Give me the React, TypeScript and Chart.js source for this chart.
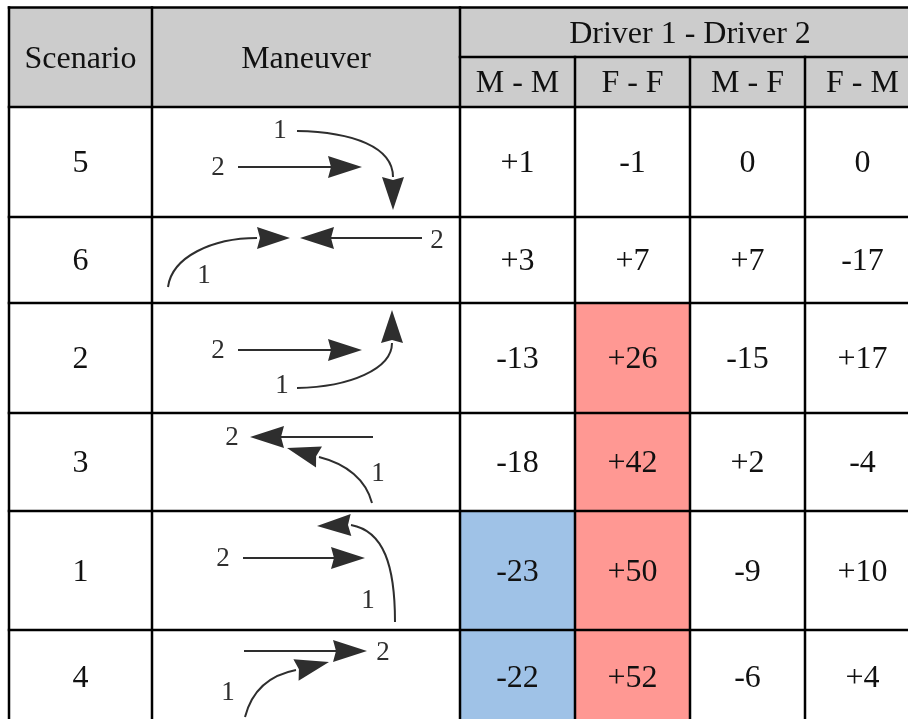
import React, { useEffect, useRef } from 'react';
import { Chart, registerables } from 'chart.js';

Chart.register(...registerables);

// ---------- data ----------
const SCENARIOS = ['5', '6', '2', '3', '1', '4'];
const PAIRINGS = ['M - M', 'F - F', 'M - F', 'F - M'];
const MM = [1, 3, -13, -18, -23, -22];
const FF = [-1, 7, 26, 42, 50, 52];
const MF = [0, 7, -15, 2, -9, -6];
const FM = [0, -17, 17, -4, 10, 4];
const SIG_MM = [false, false, false, false, true, true];
const SIG_FF = [false, false, true, true, true, true];
const SIG_MF = [false, false, false, false, false, false];
const SIG_FM = [false, false, false, false, false, false];
const HEADER_SCENARIO = 'Scenario';
const HEADER_MANEUVER = 'Maneuver';
const HEADER_GROUP = 'Driver 1 - Driver 2';

const VALUES = [MM, FF, MF, FM];
const SIGS = [SIG_MM, SIG_FF, SIG_MF, SIG_FM];

// ---------- layout ----------
const W = 908;
const H = 719;
const COL_EDGES = [9, 152, 460, 575, 690, 805, 920];
const HEAD_EDGES = [7.5, 57, 107];
const ROW_EDGES = [107, 217, 303, 413, 511, 630, 724];
const GRID_W = 2.5;
const FONT = '"Liberation Serif", "Times New Roman", serif';
const COLOR_POS = '#ff9893';
const COLOR_NEG = '#9fc2e7';
const COLOR_HEAD = '#cccccc';
const ARROW_COLOR = '#2e2e2e';

type P = [number, number];
type Line = { from: P; tip: P };
type Curve = { from: P; c1: P; c2: P; to: P; tip: P };
type Icon = { labels: { t: string; at: P }[]; lines: Line[]; curves: Curve[] };

// maneuver sketches, relative to the maneuver cell (left, top)
const ICONS: Icon[] = [
  {
    labels: [{ t: '1', at: [128, 23] }, { t: '2', at: [66, 60] }],
    lines: [{ from: [86, 60], tip: [210, 60] }],
    curves: [{ from: [145, 24], c1: [201, 25], c2: [241, 40], to: [241, 70], tip: [241, 103] }],
  },
  {
    labels: [{ t: '1', at: [52, 58] }, { t: '2', at: [285, 23] }],
    lines: [{ from: [270, 21], tip: [148, 21] }],
    curves: [{ from: [16, 70], c1: [20, 40], c2: [60, 21], to: [105, 21], tip: [138, 21] }],
  },
  {
    labels: [{ t: '2', at: [66, 47] }, { t: '1', at: [130, 82] }],
    lines: [{ from: [86, 47], tip: [210, 47] }],
    curves: [{ from: [145, 85], c1: [198, 84], c2: [240, 66], to: [240, 40], tip: [240, 7] }],
  },
  {
    labels: [{ t: '2', at: [80, 24] }, { t: '1', at: [226, 60] }],
    lines: [{ from: [221, 24], tip: [98, 24] }],
    curves: [{ from: [220, 90], c1: [214, 67], c2: [195, 51], to: [167, 44], tip: [135, 35] }],
  },
  {
    labels: [{ t: '2', at: [71, 47] }, { t: '1', at: [216, 89] }],
    lines: [{ from: [91, 47], tip: [213, 47] }],
    curves: [{ from: [243, 111], c1: [243, 55], c2: [232, 20], to: [199, 14], tip: [165, 15] }],
  },
  {
    labels: [{ t: '2', at: [231, 22] }, { t: '1', at: [76, 62] }],
    lines: [{ from: [92, 21], tip: [215, 21] }],
    curves: [{ from: [93, 87], c1: [100, 60], c2: [118, 45], to: [144, 40], tip: [177, 32] }],
  },
];

const fmt = (v: number) => (v > 0 ? `+${v}` : `${v}`);

function drawHead(ctx: CanvasRenderingContext2D, base: P, tip: P) {
  const dx = tip[0] - base[0];
  const dy = tip[1] - base[1];
  const len = Math.hypot(dx, dy) || 1;
  const ux = dx / len;
  const uy = dy / len;
  const px = -uy;
  const py = ux;
  const hw = 11;
  ctx.beginPath();
  ctx.moveTo(tip[0], tip[1]);
  ctx.lineTo(base[0] + px * hw, base[1] + py * hw);
  ctx.lineTo(base[0] + ux * 3, base[1] + uy * 3);
  ctx.lineTo(base[0] - px * hw, base[1] - py * hw);
  ctx.closePath();
  ctx.fill();
}

const tablePlugin = {
  id: 'tablePlugin',
  beforeDatasetsDraw(chart: any) {
    const { ctx, scales } = chart;
    const X = (v: number) => scales.x.getPixelForValue(v);
    const Y = (v: number) => scales.y.getPixelForValue(v);
    ctx.save();
    ctx.fillStyle = '#ffffff';
    ctx.fillRect(0, 0, chart.width, chart.height);
    ctx.fillStyle = COLOR_HEAD;
    ctx.fillRect(X(COL_EDGES[0]), Y(HEAD_EDGES[0]), X(COL_EDGES[6]) - X(COL_EDGES[0]), Y(HEAD_EDGES[2]) - Y(HEAD_EDGES[0]));
    ctx.restore();
  },
  afterDatasetsDraw(chart: any) {
    const { ctx, scales } = chart;
    const X = (v: number) => scales.x.getPixelForValue(v);
    const Y = (v: number) => scales.y.getPixelForValue(v);
    ctx.save();
    // grid
    ctx.strokeStyle = '#000';
    ctx.lineWidth = GRID_W;
    ctx.lineCap = 'square';
    const hl = (y: number, x0: number, x1: number) => {
      ctx.beginPath();
      ctx.moveTo(X(x0), Y(y));
      ctx.lineTo(X(x1), Y(y));
      ctx.stroke();
    };
    const vl = (x: number, y0: number, y1: number) => {
      ctx.beginPath();
      ctx.moveTo(X(x), Y(y0));
      ctx.lineTo(X(x), Y(y1));
      ctx.stroke();
    };
    const left = COL_EDGES[0];
    const right = COL_EDGES[6];
    const top = HEAD_EDGES[0];
    const bottom = ROW_EDGES[ROW_EDGES.length - 1];
    hl(top, left, right);
    hl(HEAD_EDGES[1], COL_EDGES[2], right);
    ROW_EDGES.forEach((r) => hl(r, left, right));
    [0, 1, 2, 6].forEach((i) => vl(COL_EDGES[i], top, bottom));
    [3, 4, 5].forEach((i) => vl(COL_EDGES[i], HEAD_EDGES[1], bottom));

    // texts
    ctx.fillStyle = '#111';
    ctx.textAlign = 'center';
    ctx.textBaseline = 'middle';
    ctx.font = `32px ${FONT}`;
    const cx = (i: number) => X((COL_EDGES[i] + COL_EDGES[i + 1]) / 2);
    const cy = (a: number, b: number) => Y((a + b) / 2) + 2;
    ctx.fillText(HEADER_SCENARIO, cx(0), cy(HEAD_EDGES[0], HEAD_EDGES[2]));
    ctx.fillText(HEADER_MANEUVER, cx(1), cy(HEAD_EDGES[0], HEAD_EDGES[2]));
    ctx.fillText(HEADER_GROUP, X((COL_EDGES[2] + COL_EDGES[6]) / 2), cy(HEAD_EDGES[0], HEAD_EDGES[1]));
    PAIRINGS.forEach((p, j) => ctx.fillText(p, cx(j + 2), cy(HEAD_EDGES[1], HEAD_EDGES[2])));
    SCENARIOS.forEach((s, r) => {
      const yc = cy(ROW_EDGES[r], ROW_EDGES[r + 1]);
      ctx.fillText(s, cx(0), yc);
      VALUES.forEach((arr, j) => ctx.fillText(fmt(arr[r]), cx(j + 2), yc));
    });

    // maneuver sketches
    ctx.strokeStyle = ARROW_COLOR;
    ctx.fillStyle = ARROW_COLOR;
    ctx.lineWidth = 2;
    ctx.lineCap = 'butt';
    ICONS.forEach((icon, r) => {
      const ox = COL_EDGES[1];
      const oy = ROW_EDGES[r];
      const pt = (p: P): P => [X(ox + p[0]), Y(oy + p[1])];
      icon.lines.forEach((l) => {
        const a = pt(l.from);
        const t = pt(l.tip);
        const dx = t[0] - a[0];
        const dy = t[1] - a[1];
        const len = Math.hypot(dx, dy);
        const L = 34;
        const b: P = [t[0] - (dx / len) * L, t[1] - (dy / len) * L];
        ctx.beginPath();
        ctx.moveTo(a[0], a[1]);
        ctx.lineTo(b[0] + (dx / len) * 4, b[1] + (dy / len) * 4);
        ctx.stroke();
        drawHead(ctx, b, t);
      });
      icon.curves.forEach((c) => {
        const a = pt(c.from);
        const c1 = pt(c.c1);
        const c2 = pt(c.c2);
        const e = pt(c.to);
        const t = pt(c.tip);
        ctx.beginPath();
        ctx.moveTo(a[0], a[1]);
        ctx.bezierCurveTo(c1[0], c1[1], c2[0], c2[1], e[0], e[1]);
        ctx.stroke();
        drawHead(ctx, e, t);
      });
      ctx.font = `27px ${FONT}`;
      icon.labels.forEach((lb) => {
        const p = pt(lb.at);
        ctx.fillText(lb.t, p[0], p[1] + 1);
      });
    });
    ctx.restore();
  },
};

export default function App() {
  const ref = useRef<HTMLCanvasElement | null>(null);
  useEffect(() => {
    if (!ref.current) return;
    const cells: { x: number; y: [number, number]; v: number }[] = [];
    SIGS.forEach((sig, j) => {
      sig.forEach((s, r) => {
        if (s) {
          cells.push({
            x: (COL_EDGES[j + 2] + COL_EDGES[j + 3]) / 2,
            y: [ROW_EDGES[r], ROW_EDGES[r + 1]],
            v: VALUES[j][r],
          });
        }
      });
    });
    const chart = new Chart(ref.current, {
      type: 'bar',
      data: {
        datasets: [
          {
            label: 'significant differences',
            data: cells as any,
            backgroundColor: (c: any) => ((c.raw && c.raw.v > 0) ? COLOR_POS : COLOR_NEG),
            borderWidth: 0,
            borderSkipped: false,
            barThickness: COL_EDGES[3] - COL_EDGES[2],
            inflateAmount: 0,
          } as any,
        ],
      },
      options: {
        animation: false,
        responsive: false,
        maintainAspectRatio: false,
        layout: { padding: 0 },
        events: [],
        scales: {
          x: { type: 'linear', min: 0, max: W, display: false, offset: false, grid: { offset: false } },
          y: { type: 'linear', min: 0, max: H, reverse: true, display: false, stacked: false, offset: false },
        },
        plugins: { legend: { display: false }, tooltip: { enabled: false }, title: { display: false } },
      },
      plugins: [tablePlugin],
    });
    return () => chart.destroy();
  }, []);
  return (
    <div style={{ position: 'fixed', left: 0, top: 0, width: W, height: H, background: '#fff' }}>
      <canvas ref={ref} width={W} height={H} style={{ width: W, height: H, display: 'block' }} />
    </div>
  );
}
